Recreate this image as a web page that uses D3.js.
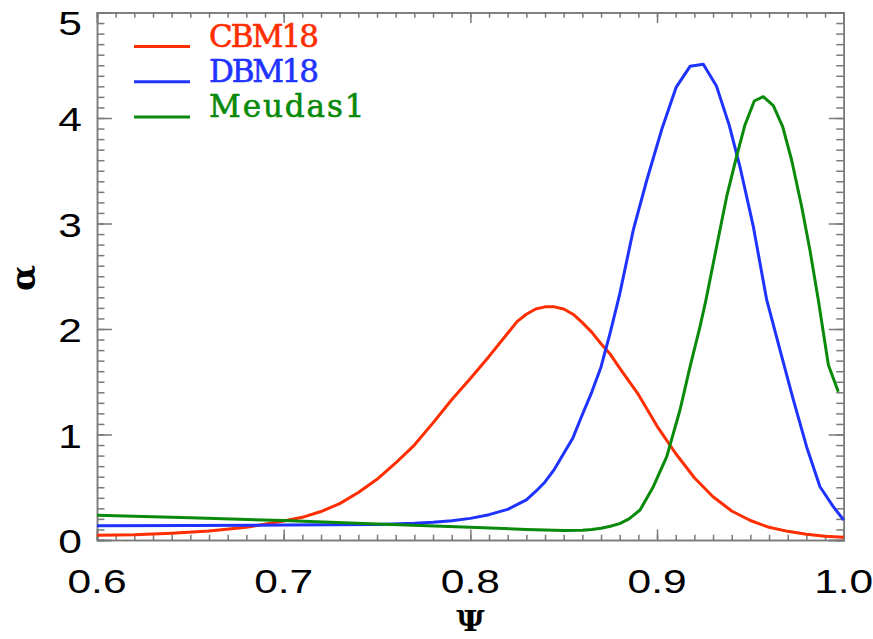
<!DOCTYPE html>
<html>
<head>
<meta charset="utf-8">
<script src="https://cdn.jsdelivr.net/npm/d3@7"></script>
<style>
  body { margin: 0; background: #fff; }
</style>
</head>
<body>
<div id="chart"></div>
<script>
// values
var psiRed = [0.60, 0.62, 0.64, 0.66, 0.68, 0.70, 0.71, 0.72, 0.73, 0.74, 0.75, 0.76, 0.77, 0.78, 0.79,
  0.80, 0.81, 0.82, 0.825, 0.83, 0.835, 0.84, 0.845, 0.85, 0.855, 0.86, 0.865, 0.87, 0.875, 0.88,
  0.89, 0.90, 0.91, 0.92, 0.93, 0.94, 0.95, 0.96, 0.97, 0.98, 0.99, 1.00];
var alphaRed = [0.045, 0.05, 0.065, 0.085, 0.12, 0.18, 0.215, 0.27, 0.345, 0.45, 0.575, 0.73, 0.9, 1.11, 1.33,
  1.53, 1.74, 1.96, 2.07, 2.14, 2.19, 2.21, 2.21, 2.19, 2.14, 2.06, 1.97, 1.86, 1.76, 1.63,
  1.38, 1.08, 0.82, 0.59, 0.41, 0.275, 0.185, 0.12, 0.082, 0.055, 0.036, 0.025];

var psiBlue = [0.60, 0.65, 0.70, 0.75, 0.77, 0.78, 0.79, 0.80, 0.81, 0.82, 0.83, 0.835, 0.84, 0.845,
  0.85, 0.855, 0.86, 0.865, 0.87, 0.875, 0.88, 0.8873, 0.8945, 0.9025, 0.9102, 0.9177, 0.9248,
  0.9319, 0.9387, 0.9444, 0.9516, 0.9587, 0.9659, 0.973, 0.9802, 0.9873, 0.9944, 1.00];
var alphaBlue = [0.135, 0.138, 0.142, 0.148, 0.158, 0.168, 0.182, 0.205, 0.24, 0.29, 0.38, 0.46, 0.55, 0.67,
  0.82, 0.97, 1.19, 1.40, 1.64, 1.97, 2.33, 2.94, 3.41, 3.89, 4.29, 4.49, 4.51,
  4.30, 3.93, 3.54, 2.97, 2.28, 1.80, 1.33, 0.88, 0.505, 0.316, 0.19];

var psiGreen = [0.60, 0.65, 0.70, 0.75, 0.80, 0.83, 0.85, 0.86, 0.865, 0.87, 0.875, 0.88, 0.885, 0.8909,
  0.898, 0.9052, 0.9123, 0.9177, 0.923, 0.9262, 0.9319, 0.9373, 0.9426, 0.9471, 0.9521, 0.9569,
  0.9623, 0.9673, 0.9721, 0.9775, 0.9819, 0.9864, 0.9918, 0.9971];
var alphaGreen = [0.235, 0.21, 0.185, 0.152, 0.122, 0.10, 0.09, 0.092, 0.10, 0.112, 0.13, 0.155, 0.2, 0.284,
  0.505, 0.79, 1.232, 1.643, 2.02, 2.275, 2.78, 3.254, 3.633, 3.934, 4.161, 4.202,
  4.117, 3.918, 3.602, 3.159, 2.749, 2.275, 1.659, 1.406];

var seriesNames = ["CBM18", "DBM18", "Meudas1"];
var xTicks = [0.6, 0.7, 0.8, 0.9, 1.0];
var yTicks = [0, 1, 2, 3, 4, 5];

var colors = ["#ff2e00", "#1f33ff", "#0a8a0a"];
var series = [
  {name: seriesNames[0], psi: psiRed, alpha: alphaRed, color: colors[0]},
  {name: seriesNames[1], psi: psiBlue, alpha: alphaBlue, color: colors[1]},
  {name: seriesNames[2], psi: psiGreen, alpha: alphaGreen, color: colors[2]}
];

var margin = {top: 12.5, right: 29.3, bottom: 99, left: 97},
    width = 873 - margin.left - margin.right,
    height = 639 - margin.top - margin.bottom;

var svg = d3.select("#chart")
  .append("svg")
    .attr("width", 873)
    .attr("height", 639)
  .append("g")
    .attr("transform", "translate(" + margin.left + "," + margin.top + ")");

var x = d3.scaleLinear().domain([0.6, 1.0]).range([0, width]);
var y = d3.scaleLinear().domain([0, 5]).range([height, 0]);

var axisColor = "#7a7a7a";
var xMinor = d3.range(60, 101).map(function(d) { return d / 100; });
var yMinor = d3.range(0, 51).map(function(d) { return d / 10; });
var xMaj = height * 0.02, yMaj = width * 0.02;

function styleAxis(g) {
  g.select(".domain").attr("stroke", axisColor).attr("stroke-width", 1.5);
  g.selectAll(".tick line").attr("stroke", axisColor).attr("stroke-width", 1.5);
}

// minor + major ticks on all four sides, pointing inward
svg.append("g").attr("transform", "translate(0," + height + ")")
  .call(d3.axisBottom(x).tickValues(xMinor).tickSize(-xMaj / 2).tickFormat("")).call(styleAxis);
svg.append("g").attr("transform", "translate(0," + height + ")")
  .call(d3.axisBottom(x).tickValues(xTicks).tickSize(-xMaj).tickFormat("")).call(styleAxis);
svg.append("g")
  .call(d3.axisTop(x).tickValues(xMinor).tickSize(-xMaj / 2).tickFormat("")).call(styleAxis);
svg.append("g")
  .call(d3.axisTop(x).tickValues(xTicks).tickSize(-xMaj).tickFormat("")).call(styleAxis);
svg.append("g")
  .call(d3.axisLeft(y).tickValues(yMinor).tickSize(-yMaj / 2).tickFormat("")).call(styleAxis);
svg.append("g")
  .call(d3.axisLeft(y).tickValues(yTicks).tickSize(-yMaj).tickFormat("")).call(styleAxis);
svg.append("g").attr("transform", "translate(" + width + ",0)")
  .call(d3.axisRight(y).tickValues(yMinor).tickSize(-yMaj / 2).tickFormat("")).call(styleAxis);
svg.append("g").attr("transform", "translate(" + width + ",0)")
  .call(d3.axisRight(y).tickValues(yTicks).tickSize(-yMaj).tickFormat("")).call(styleAxis);

// tick labels
var labelFont = "'Liberation Sans', Arial, sans-serif";
svg.selectAll(".xlab")
  .data(xTicks)
  .enter()
  .append("text")
    .attr("transform", function(d) { return "translate(" + x(d) + "," + (height + 53) + ") scale(1.25,1)"; })
    .attr("text-anchor", "middle")
    .style("font-family", labelFont)
    .style("font-size", "34px")
    .text(function(d) { return d.toFixed(1); });

svg.selectAll(".ylab")
  .data(yTicks)
  .enter()
  .append("text")
    .attr("transform", function(d) {
      // the top label sits a bit lower so it stays inside the page
      var off = d === 5 ? 22 : 13;
      return "translate(-15," + (y(d) + off) + ") scale(1.25,1)";
    })
    .attr("text-anchor", "end")
    .style("font-family", labelFont)
    .style("font-size", "34px")
    .text(function(d) { return d; });

// axis titles
svg.append("text")
  .attr("transform", "translate(" + (width / 2) + "," + (631 - margin.top) + ") scale(1.15,1)")
  .attr("text-anchor", "middle")
  .style("font-family", "'DejaVu Serif', serif")
  .style("font-weight", "bold")
  .style("font-size", "27px")
  .text("Ψ");

svg.append("text")
  .attr("transform", "translate(" + (35 - margin.left) + "," + (278 - margin.top) + ") rotate(-90)")
  .attr("text-anchor", "middle")
  .style("font-family", "'DejaVu Serif', serif")
  .style("font-weight", "bold")
  .style("font-size", "34px")
  .text("α");

// curves
var line = d3.line()
  .x(function(d) { return x(d[0]); })
  .y(function(d) { return y(d[1]); });

svg.selectAll(".curve")
  .data(series)
  .enter()
  .append("path")
    .attr("fill", "none")
    .attr("stroke", function(d) { return d.color; })
    .attr("stroke-width", 3)
    .attr("stroke-linejoin", "round")
    .attr("d", function(d) { return line(d.psi.map(function(p, i) { return [p, d.alpha[i]]; })); });

// legend
var legend = svg.selectAll(".legend")
  .data(series)
  .enter()
  .append("g")
    .attr("transform", function(d, i) { return "translate(0," + (34 + i * 35.3) + ")"; });

legend.append("line")
  .attr("x1", 37).attr("x2", 93)
  .attr("stroke", function(d) { return d.color; })
  .attr("stroke-width", 3);

legend.append("text")
  .attr("x", 112)
  .attr("y", 0)
  .attr("fill", function(d) { return d.color; })
  .attr("stroke", function(d) { return d.color; })
  .attr("stroke-width", 0.6)
  .attr("textLength", function(d) { return d.name.length * 22.8 - 4; })
  .style("font-family", "'DejaVu Serif', serif")
  .style("font-size", "31px")
  .text(function(d) { return d.name; });
</script>
</body>
</html>
